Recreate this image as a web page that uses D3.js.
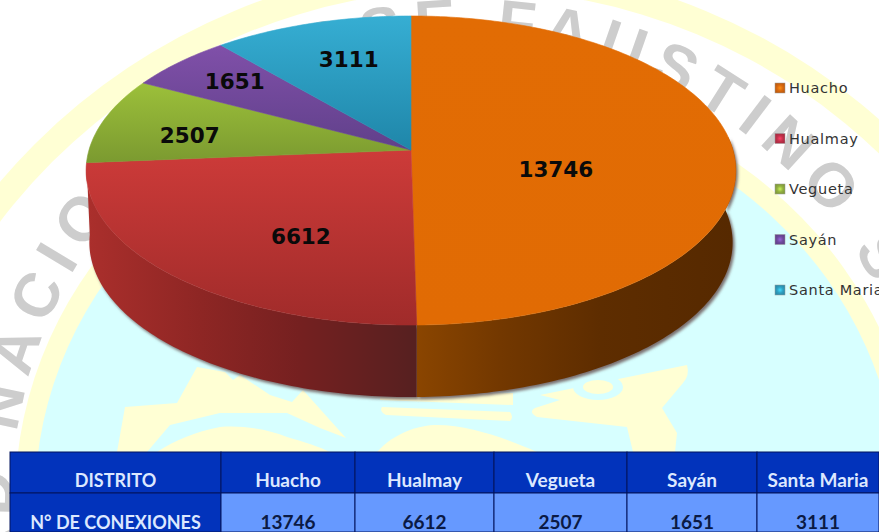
<!DOCTYPE html>
<html>
<head>
<meta charset="utf-8">
<script src="https://cdn.jsdelivr.net/npm/d3@7"></script>
<style>
  html, body { margin: 0; padding: 0; background: #fff; overflow: hidden; }
  svg { display: block; }
</style>
</head>
<body>
<div id="chart"></div>
<script>
const distritos = ["Huacho", "Hualmay", "Vegueta", "Sayán", "Santa Maria"];
const conexiones = [13746, 6612, 2507, 1651, 3111];
const rowHeaders = ["DISTRITO", "N° DE CONEXIONES"];
const watermark = "UNIVERSIDAD NACIONAL JOSE FAUSTINO SANCHEZ CARRION";

// top face gradients, light then dark
const topColors = [["#e26c04", "#e16b04"], ["#cd3b39", "#a02b2a"], ["#9cc03a", "#7b9a30"], ["#8050a9", "#60408a"], ["#36aed3", "#1f86a9"]];
const wallColors = [["#8a4500", "#733800", "#5e2d00", "#562900"], ["#562020", "#752020", "#8e2624", "#ab2f2c"]];
const legendColors = ["#d9690f", "#c0304a", "#92b040", "#6f4a9e", "#2f9fc0"];
// label placement: radial fraction and vertical nudge per slice
const labelFrac = [0.45, 0.485, 0.715, 0.745, 0.6];
const labelNudge = [20, 29, 7, -2, -11];

const W = 879, H = 532;
const svg = d3.select("#chart").append("svg").attr("width", W).attr("height", H);
const defs = svg.append("defs");

// ---- backdrop (seal behind the chart)
const bg = svg.append("g");
bg.append("rect").attr("width", W).attr("height", H).attr("fill", "#fff");
bg.append("circle").attr("cx", 470).attr("cy", 580).attr("r", 616).attr("fill", "#ffffd4");
bg.append("circle").attr("cx", 470).attr("cy", 580).attr("r", 591).attr("fill", "#fff");
bg.append("ellipse").attr("cx", 467).attr("cy", 500).attr("rx", 452).attr("ry", 420).attr("fill", "#ffffd4");
bg.append("ellipse").attr("cx", 467).attr("cy", 500).attr("rx", 432).attr("ry", 400).attr("fill", "#d7ffff");

const logoShapes = [
  "M125,407 L177,403 L197,367 L225,372 L233,380 L240,375 L270,395 L292,402 L303,390 L346,438 L320,428 L287,413 L220,413 L170,425 L147,452 L117,452 Z",
  "M157,452 C175,440 195,432 220,427 C245,425 270,430 287,437 C305,442 320,447 330,452 Z",
  "M377,452 C395,432 420,425 437,425 C470,425 510,440 537,452 Z",
  "M382,407 L510,412 Q514,417 510,421 L386,415 Q379,411 382,407 Z",
  "M380,396 L513,393 L513,405 L380,400 Z",
  "M540,395 L687,365 Q690,375 683,383 L662,408 L677,433 L675,452 L633,452 L627,427 L537,417 Q528,412 535,408 L560,400 Z"
];
bg.selectAll("path.logo").data(logoShapes).enter().append("path")
    .attr("class", "logo").attr("d", d => d).attr("fill", "#ffffd4");
bg.append("ellipse").attr("cx", 598).attr("cy", 387).attr("rx", 25).attr("ry", 13).attr("fill", "#d7ffff");
bg.append("ellipse").attr("cx", 598).attr("cy", 387).attr("rx", 15).attr("ry", 7).attr("fill", "#ffffd4");

const wmR = 458, wmX = 470, wmY = 500;
defs.append("path").attr("id", "wmPath")
    .attr("d", `M${wmX},${wmY + wmR} A${wmR},${wmR} 0 1 1 ${wmX},${wmY - wmR} A${wmR},${wmR} 0 1 1 ${wmX},${wmY + wmR}`);
bg.append("text")
    .attr("font-family", "'Liberation Sans', sans-serif")
    .attr("font-weight", "bold")
    .attr("font-size", 62)
    .attr("letter-spacing", 10.8)
    .attr("fill", "#cdcdcd")
  .append("textPath")
    .attr("href", "#wmPath")
    .attr("startOffset", 213)
    .text(watermark);

// ---- pie, perspective warp of the unit disc
const cx = 411, cy = 150, a = 151.8, b = 322, k = 0.1327, depth = 73;
function warp(t, f = 1) {
  const u = f * Math.sin(t), v = -f * Math.cos(t), w = 1 - k * v;
  return [cx + b * u / w, cy + a * v / w];
}
function wallBottom(p) {
  return [cx + (p[0] - cx) * 0.99, p[1] + depth - 1];
}
function rimAngles(t0, t1) {
  const step = Math.PI / 180;
  return d3.range(t0, t1, step).concat(t1);
}

const arcs = d3.pie().sort(null).value(d => d)(conexiones);
const line = d3.line();

topColors.forEach((c, i) => {
  const g = defs.append("linearGradient").attr("id", `top${i}`)
      .attr("gradientUnits", "objectBoundingBox").attr("x1", 0).attr("x2", 0).attr("y1", 0).attr("y2", 1);
  g.append("stop").attr("offset", 0).attr("stop-color", c[0]);
  g.append("stop").attr("offset", 1).attr("stop-color", c[1]);
});

const wallX = [[417, 500, 600, 733], [417, 300, 200, 86]];
wallColors.forEach((c, i) => {
  const g = defs.append("linearGradient").attr("id", `wall${i}`)
      .attr("gradientUnits", "userSpaceOnUse")
      .attr("x1", wallX[i][0]).attr("x2", wallX[i][3]).attr("y1", 0).attr("y2", 0);
  c.forEach((col, j) => {
    g.append("stop")
        .attr("offset", (wallX[i][j] - wallX[i][0]) / (wallX[i][3] - wallX[i][0]))
        .attr("stop-color", col);
  });
});

legendColors.forEach((c, i) => {
  const g = defs.append("radialGradient").attr("id", `leg${i}`);
  g.append("stop").attr("offset", 0).attr("stop-color", d3.color(c).brighter(0.9));
  g.append("stop").attr("offset", 0.6).attr("stop-color", c);
  g.append("stop").attr("offset", 1).attr("stop-color", d3.color(c).darker(0.3));
});

const blur = defs.append("filter").attr("id", "soft").attr("x", "-5%").attr("y", "-5%").attr("width", "110%").attr("height", "115%");
blur.append("feGaussianBlur").attr("stdDeviation", 1.6);

const pie = svg.append("g");

// visible front wall only runs over the lower half
const visible = arcs.slice(0, 2).map((d, i) => {
  const t0 = Math.max(d.startAngle, 85 * Math.PI / 180), t1 = Math.min(d.endAngle, 265.3 * Math.PI / 180);
  const upper = rimAngles(t0, t1).map(t => warp(t));
  return { i, path: line(upper.concat(upper.map(wallBottom).reverse())) + "Z" };
});

pie.selectAll("path.shadow").data(visible).enter().append("path")
    .attr("class", "shadow")
    .attr("d", d => d.path)
    .attr("transform", "translate(2,2.5)")
    .attr("fill", "#7a7070")
    .attr("filter", "url(#soft)");

pie.selectAll("path.wall").data(visible).enter().append("path")
    .attr("class", "wall")
    .attr("d", d => d.path)
    .attr("fill", d => `url(#wall${d.i})`);

pie.selectAll("path.slice").data(arcs).enter().append("path")
    .attr("class", "slice")
    .attr("d", d => line([[cx, cy]].concat(rimAngles(d.startAngle, d.endAngle).map(t => warp(t)))) + "Z")
    .attr("fill", (d, i) => `url(#top${i})`)
    .attr("stroke", (d, i) => `url(#top${i})`)
    .attr("stroke-width", 0.6);

pie.selectAll("text.val").data(arcs).enter().append("text")
    .attr("class", "val")
    .attr("x", (d, i) => warp((d.startAngle + d.endAngle) / 2, labelFrac[i])[0])
    .attr("y", (d, i) => warp((d.startAngle + d.endAngle) / 2, labelFrac[i])[1] + labelNudge[i])
    .attr("dy", "0.36em")
    .attr("text-anchor", "middle")
    .attr("font-family", "'DejaVu Sans', sans-serif")
    .attr("font-weight", "bold")
    .attr("font-size", 21.5)
    .attr("fill", "#0a0a0a")
    .text(d => d.data);

// ---- legend
const legendY = d3.scalePoint().domain(distritos).range([88, 290]);
const legend = svg.append("g").selectAll("g").data(distritos).enter().append("g")
    .attr("transform", d => `translate(775,${legendY(d)})`);
legend.append("rect")
    .attr("x", 0).attr("y", -5).attr("width", 10).attr("height", 10)
    .attr("fill", (d, i) => `url(#leg${i})`)
    .attr("stroke", "#999").attr("stroke-width", 0.5);
legend.append("text")
    .attr("x", 14).attr("dy", "0.36em")
    .attr("font-family", "'DejaVu Sans', sans-serif")
    .attr("font-size", 14.5)
    .attr("letter-spacing", 0.7)
    .attr("fill", "#333")
    .text(d => d);

// ---- table under the chart
const colEdges = [10, 221, 355, 494, 627, 757, 879];
const rowEdges = [452, 493, 532];
const table = svg.append("g");
const tableFont = "Lato, 'Open Sans', sans-serif";

const rows = [[rowHeaders[0]].concat(distritos), [rowHeaders[1]].concat(conexiones)];
rows.forEach((row, r) => {
  row.forEach((cell, c) => {
    const dark = r === 0 || c === 0;
    table.append("rect")
        .attr("x", colEdges[c]).attr("y", rowEdges[r])
        .attr("width", colEdges[c + 1] - colEdges[c]).attr("height", rowEdges[r + 1] - rowEdges[r])
        .attr("fill", dark ? "#0233bb" : "#6699ff")
        .attr("stroke", "#02155e").attr("stroke-width", 1);
    table.append("text")
        .attr("x", (colEdges[c] + colEdges[c + 1]) / 2)
        .attr("y", r === 0 ? 481 : 523)
        .attr("dy", 6)
        .attr("text-anchor", "middle")
        .attr("font-family", tableFont)
        .attr("font-weight", "bold")
        .attr("font-size", c === 0 ? 18 : 19)
        .attr("fill", dark ? "#dce8ff" : "#0b1a44")
        .text(cell);
  });
});
</script>
</body>
</html>
